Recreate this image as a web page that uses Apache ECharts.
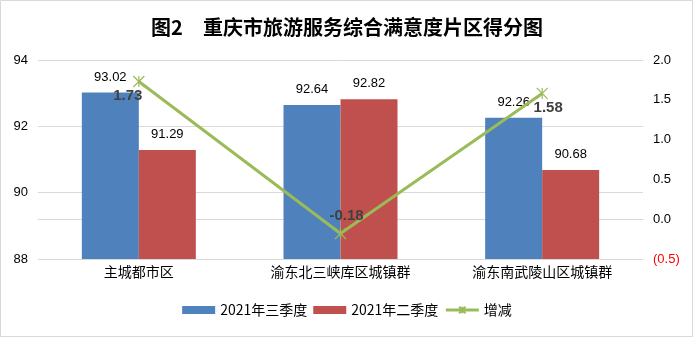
<!DOCTYPE html>
<html><head><meta charset="utf-8">
<script src="https://cdn.jsdelivr.net/npm/echarts@6/dist/echarts.min.js"></script>
<style>html,body{margin:0;padding:0;background:#fff}#c{width:694px;height:338px}</style>
</head><body><div id="c"></div>
<script>
var categories = ['主城都市区', '渝东北三峡库区城镇群', '渝东南武陵山区城镇群'];
var q3Values = [93.02, 92.64, 92.26];
var q2Values = [91.29, 92.82, 90.68];
var changeValues = [1.73, -0.18, 1.58];
var seriesNames = ['2021年三季度', '2021年二季度', '增减'];
var changeLabelOffsets = [[-11, 14], [6, -18], [6, 14]];

var chart = echarts.init(document.getElementById('c'));
var font = 'Noto Sans CJK SC';
var star = 'path://M0,0L10,10M10,0L0,10M5,0L5,10';
chart.setOption({
  animation: false,
  backgroundColor: '#fff',
  graphic: [{type: 'rect', shape: {x: 0.5, y: 0.5, width: 692, height: 336}, style: {fill: 'none', stroke: '#d9d9d9', lineWidth: 1}, silent: true, z: 100}],
  title: {
    text: '图2　重庆市旅游服务综合满意度片区得分图',
    left: 'center', top: 12,
    textStyle: {fontFamily: font, fontSize: 20, fontWeight: 'bold', color: '#000'}
  },
  legend: {
    bottom: 16, left: 'center',
    itemWidth: 33, itemHeight: 8, itemGap: 6,
    textStyle: {fontFamily: font, fontSize: 14, color: '#000'},
    data: [
      {name: seriesNames[0], icon: 'rect'},
      {name: seriesNames[1], icon: 'rect'},
      {name: seriesNames[2], lineStyle: {width: 3, color: '#9bbb59'}}
    ]
  },
  grid: {left: 38, right: 51, top: 60, bottom: 79},
  xAxis: {
    type: 'category', data: categories,
    axisLine: {lineStyle: {color: '#d9d9d9'}},
    axisTick: {show: false},
    axisLabel: {fontFamily: font, fontSize: 14, color: '#000', margin: 6}
  },
  yAxis: [{
    type: 'value', min: 88, max: 94, interval: 2,
    axisLine: {show: false}, axisTick: {show: false},
    splitLine: {lineStyle: {color: '#d9d9d9'}},
    axisLabel: {fontFamily: 'Liberation Sans', fontSize: 13, color: '#000', margin: 10}
  }, {
    type: 'value', min: -0.5, max: 2.0, interval: 0.5,
    axisLine: {show: false}, axisTick: {show: false},
    splitLine: {show: false},
    axisLabel: {
      fontFamily: 'Liberation Sans', fontSize: 13, margin: 10,
      formatter: function (v) { return v < 0 ? '(' + Math.abs(v).toFixed(1) + ')' : v.toFixed(1); },
      color: function (v) { return Number(v) < 0 ? '#ff0000' : '#000'; }
    }
  }],
  series: [{
    name: seriesNames[0], type: 'bar', data: q3Values,
    barWidth: 57, barGap: '0%',
    itemStyle: {color: '#4f81bd'},
    label: {show: true, position: 'top', distance: 9, fontFamily: 'Liberation Sans', fontSize: 13, color: '#000'}
  }, {
    name: seriesNames[1], type: 'bar', data: q2Values,
    barWidth: 57,
    itemStyle: {color: '#c0504d'},
    label: {show: true, position: 'top', distance: 9, fontFamily: 'Liberation Sans', fontSize: 13, color: '#000'}
  }, {
    name: seriesNames[2], type: 'line', yAxisIndex: 1,
    data: changeValues.map(function (v, i) {
      return {value: v, label: {offset: changeLabelOffsets[i]}};
    }),
    lineStyle: {color: '#9bbb59', width: 3},
    symbol: star, symbolSize: 11,
    itemStyle: {color: 'none', borderColor: '#9bbb59', borderWidth: 1.2},
    label: {show: true, position: 'inside', fontFamily: 'Liberation Sans', fontSize: 15, fontWeight: 'bold', color: '#404040'},
    z: 5
  }]
});
</script></body></html>
